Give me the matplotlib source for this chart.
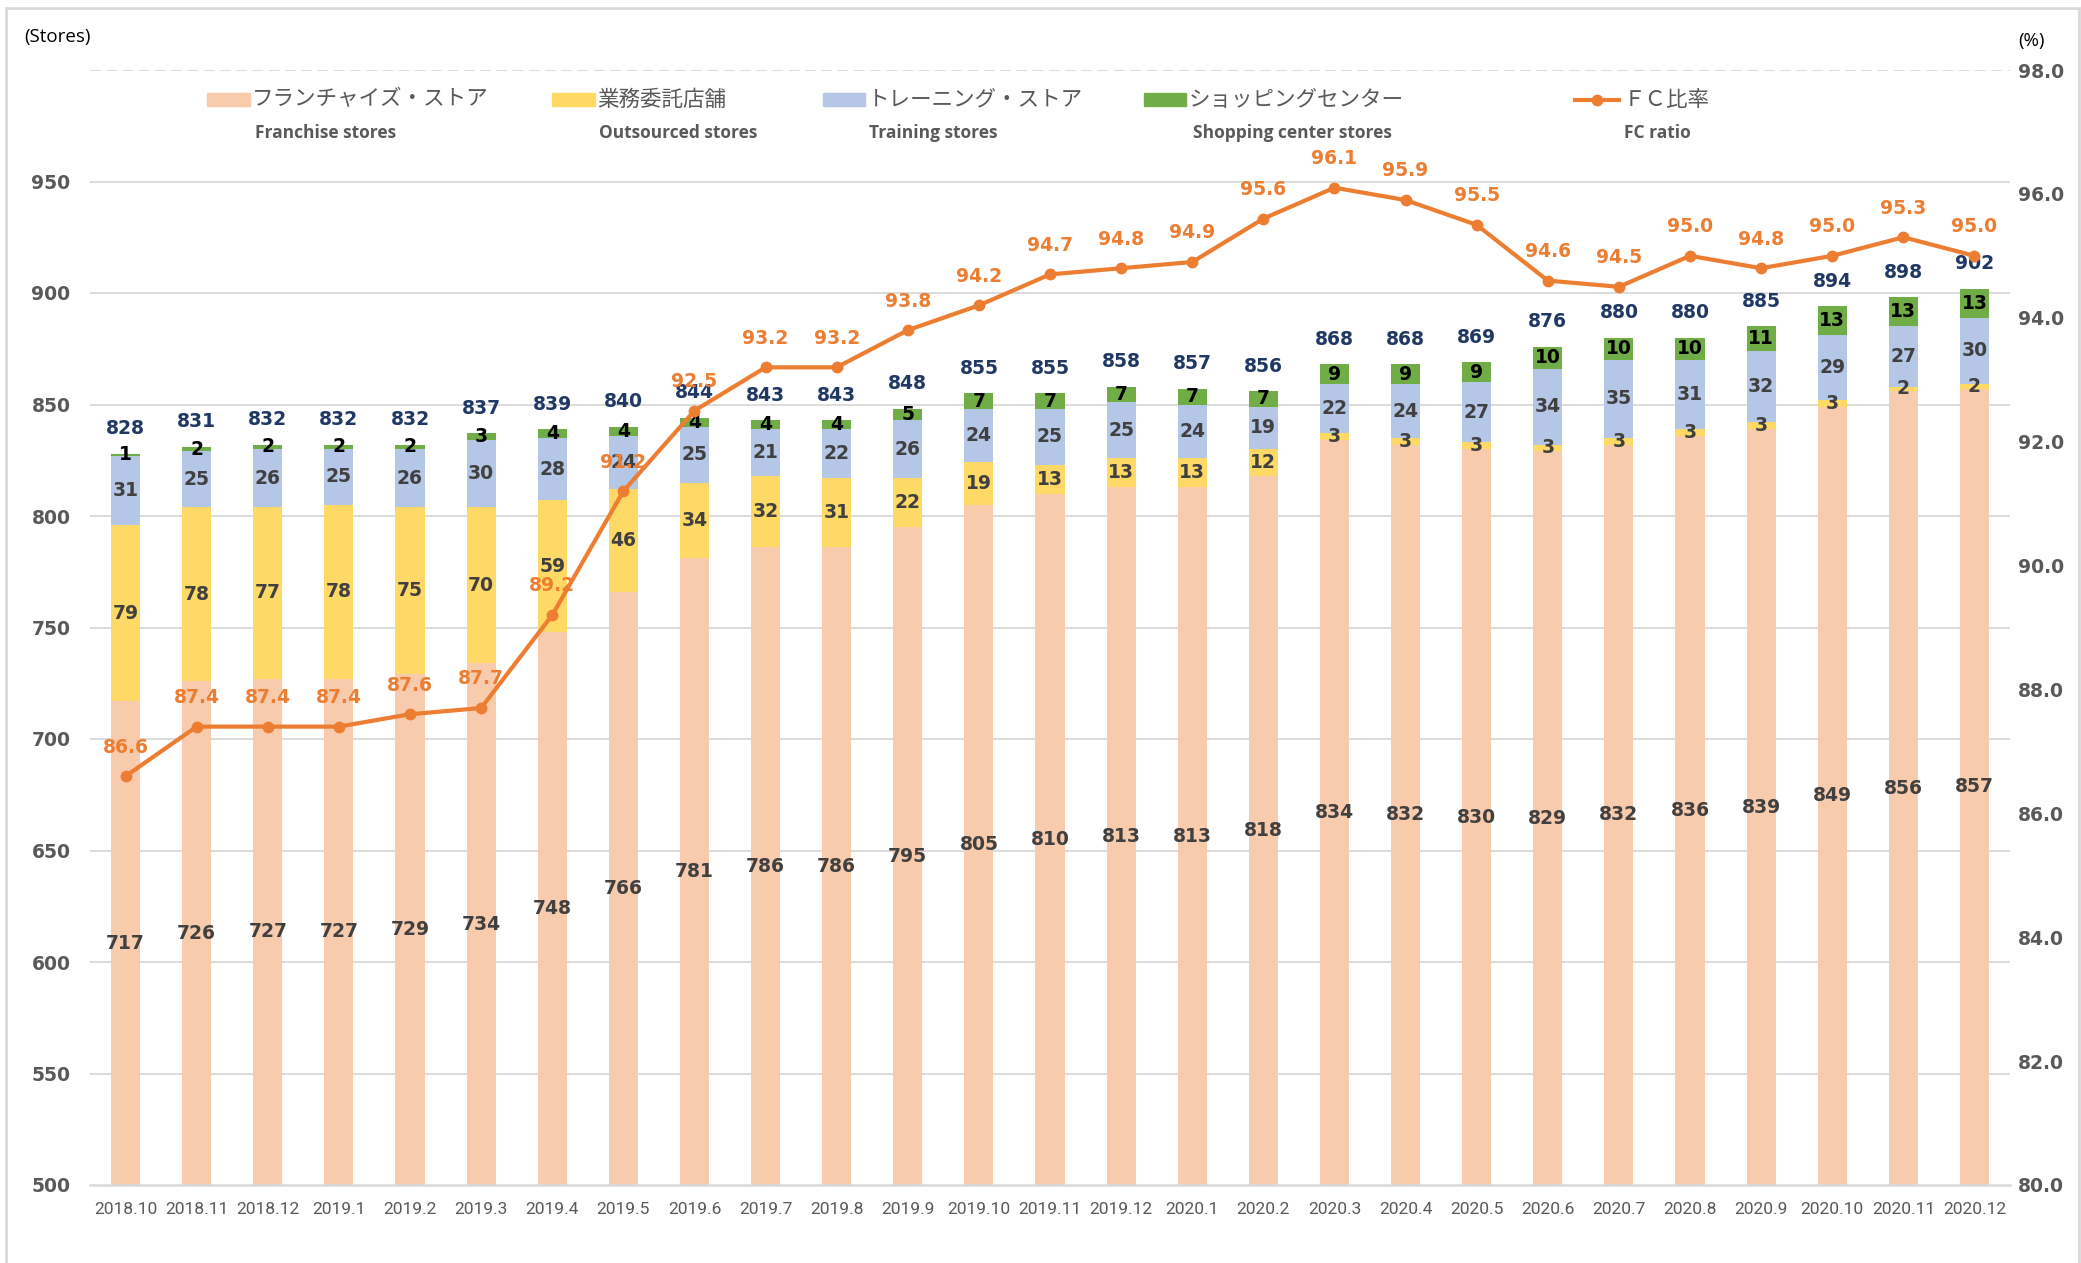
import matplotlib
matplotlib.use("Agg")
import matplotlib.pyplot as plt
from matplotlib.patches import Rectangle
from matplotlib.lines import Line2D
import numpy as np

months = ["2018.10", "2018.11", "2018.12", "2019.1", "2019.2", "2019.3", "2019.4", "2019.5",
          "2019.6", "2019.7", "2019.8", "2019.9", "2019.10", "2019.11", "2019.12", "2020.1",
          "2020.2", "2020.3", "2020.4", "2020.5", "2020.6", "2020.7", "2020.8", "2020.9",
          "2020.10", "2020.11", "2020.12"]
franchise = [717, 726, 727, 727, 729, 734, 748, 766, 781, 786, 786, 795, 805, 810, 813, 813,
             818, 834, 832, 830, 829, 832, 836, 839, 849, 856, 857]
outsourced = [79, 78, 77, 78, 75, 70, 59, 46, 34, 32, 31, 22, 19, 13, 13, 13, 12, 3, 3, 3, 3,
              3, 3, 3, 3, 2, 2]
training = [31, 25, 26, 25, 26, 30, 28, 24, 25, 21, 22, 26, 24, 25, 25, 24, 19, 22, 24, 27,
            34, 35, 31, 32, 29, 27, 30]
shopping = [1, 2, 2, 2, 2, 3, 4, 4, 4, 4, 4, 5, 7, 7, 7, 7, 7, 9, 9, 9, 10, 10, 10, 11, 13, 13, 13]
fc_ratio = [86.6, 87.4, 87.4, 87.4, 87.6, 87.7, 89.2, 91.2, 92.5, 93.2, 93.2, 93.8, 94.2, 94.7,
            94.8, 94.9, 95.6, 96.1, 95.9, 95.5, 94.6, 94.5, 95.0, 94.8, 95.0, 95.3, 95.0]
left_ticks = [500, 550, 600, 650, 700, 750, 800, 850, 900, 950]
right_ticks = [80.0, 82.0, 84.0, 86.0, 88.0, 90.0, 92.0, 94.0, 96.0, 98.0]

legend_jp = ["フランチャイズ・ストア", "業務委託店舗", "トレーニング・ストア", "ショッピングセンター", "ＦＣ比率"]
legend_en = ["Franchise stores", "Outsourced stores", "Training stores", "Shopping center stores", "FC ratio"]

c_fr = "#F8CBAD"
c_out = "#FFD966"
c_tr = "#B4C7E7"
c_sc = "#70AD47"
c_line = "#ED7D31"
c_total = "#1F3864"
c_txt = "#404040"
c_tick = "#595959"
c_grid = "#D9D9D9"

W, H = 2081, 1263
fig = plt.figure(figsize=(W / 100, H / 100), dpi=100)
L, R, B, T = 90 / W, 2010 / W, 1 - 1185 / H, 1 - 70 / H
ax = fig.add_axes([L, B, R - L, T - B])
ax2 = ax.twinx()

x = np.arange(len(months))
fr = np.array(franchise)
ou = np.array(outsourced)
tr = np.array(training)
sc = np.array(shopping)
tot = fr + ou + tr + sc

bw = 0.41
ax.bar(x, fr - 500, bottom=500, width=bw, color=c_fr, zorder=2)
ax.bar(x, ou, bottom=fr, width=bw, color=c_out, zorder=2)
ax.bar(x, tr, bottom=fr + ou, width=bw, color=c_tr, zorder=2)
ax.bar(x, sc, bottom=fr + ou + tr, width=bw, color=c_sc, zorder=2)

ax.set_xlim(-0.5, len(months) - 0.5)
ax.set_ylim(500, 1000)
ax.set_yticks(left_ticks)
ax.set_yticklabels([str(v) for v in left_ticks])
for v in left_ticks[1:]:
    ax.axhline(v, color=c_grid, lw=1.3, zorder=0)
ax.axhline(1000, color=c_grid, lw=1.3, ls=(0, (6, 3)), zorder=0)
for s in ["top", "right", "left"]:
    ax.spines[s].set_visible(False)
    ax2.spines[s].set_visible(False)
ax.spines["bottom"].set_color(c_grid)
ax.spines["bottom"].set_linewidth(1.8)
ax2.spines["bottom"].set_visible(False)
ax.tick_params(axis="y", length=0, pad=14, labelsize=13.5, labelcolor=c_tick)
ax.tick_params(axis="x", length=0, pad=12, labelsize=12.5, labelcolor=c_tick)
for lab in ax.get_yticklabels():
    lab.set_fontweight("bold")
ax.set_xticks(x)
ax.set_xticklabels(months, fontfamily="Roboto")

ax2.set_ylim(80, 98)
ax2.set_yticks(right_ticks)
ax2.set_yticklabels([f"{v:.1f}" for v in right_ticks])
ax2.tick_params(axis="y", length=0, pad=6, labelsize=13.5, labelcolor=c_tick)
for lab in ax2.get_yticklabels():
    lab.set_fontweight("bold")

ax2.plot(x, fc_ratio, color=c_line, lw=3, marker="o", ms=7.5, zorder=5)

# bar labels
lab_kw = dict(ha="center", va="center", fontsize=13.5, fontweight="bold", zorder=10)
for i in x:
    ax.text(i, (500 + fr[i]) / 2, str(fr[i]), color=c_txt, **lab_kw)
    ax.text(i, fr[i] + ou[i] / 2, str(ou[i]), color=c_txt, **lab_kw)
    ax.text(i, fr[i] + ou[i] + tr[i] / 2, str(tr[i]), color=c_txt, **lab_kw)
    ax.text(i, fr[i] + ou[i] + tr[i] + sc[i] / 2, str(sc[i]), color="black", **lab_kw)
    ax.annotate(str(tot[i]), (i, tot[i]), xytext=(0, 18), textcoords="offset points",
                color=c_total, **lab_kw)
    ax2.annotate(f"{fc_ratio[i]:.1f}", (i, fc_ratio[i]), xytext=(0, 21), textcoords="offset points",
                 ha="center", va="center", fontsize=13.5, fontweight="bold", color=c_line, zorder=9)

# axis unit labels
fig.text(18 / 1568, 1 - 28 / 952, "(Stores)", fontsize=13.5, color="black", ha="left", va="center",
         fontfamily="Open Sans")
fig.text(1531 / 1568, 1 - 31 / 952, "(%)", fontsize=13.5, color="black", ha="center", va="center",
         fontfamily="Open Sans")

# legend (manual)
patch_x = [156, 416, 620, 862]
en_x = [245, 511, 703, 974, 1249]
cols = [c_fr, c_out, c_tr, c_sc]
ly = 1 - 75 / 952
for px, col, jp in zip(patch_x, cols, legend_jp[:4]):
    fig.patches.append(Rectangle((px / 1568, ly - 5 / 952), 32 / 1568, 10 / 952,
                                 transform=fig.transFigure, color=col))
    fig.text((px + 34) / 1568, ly, jp, fontfamily="Noto Sans CJK JP", fontsize=15.5,
             color=c_tick, ha="left", va="center")
fig.lines.append(Line2D([1187 / 1568, 1220 / 1568], [ly, ly], transform=fig.transFigure,
                        color=c_line, lw=3))
fig.lines.append(Line2D([1203.5 / 1568], [ly], transform=fig.transFigure, color=c_line,
                        marker="o", ms=7.5, lw=0))
fig.text(1223 / 1568, ly, legend_jp[4], fontfamily="Noto Sans CJK JP", fontsize=15.5,
         color=c_tick, ha="left", va="center")
for ex, en in zip(en_x, legend_en):
    fig.text(ex / 1568, 1 - 100 / 952, en, fontfamily="Open Sans", fontweight="bold",
             fontsize=12.5, color=c_tick, ha="center", va="center")

# outer frame
fig.patches.append(Rectangle((6 / W, -0.01), 1 - 8 / W, 1 - 8 / H + 0.01, transform=fig.transFigure,
                             fill=False, edgecolor="#D9D9D9", lw=2))

fig.savefig("out.png", dpi=100)
